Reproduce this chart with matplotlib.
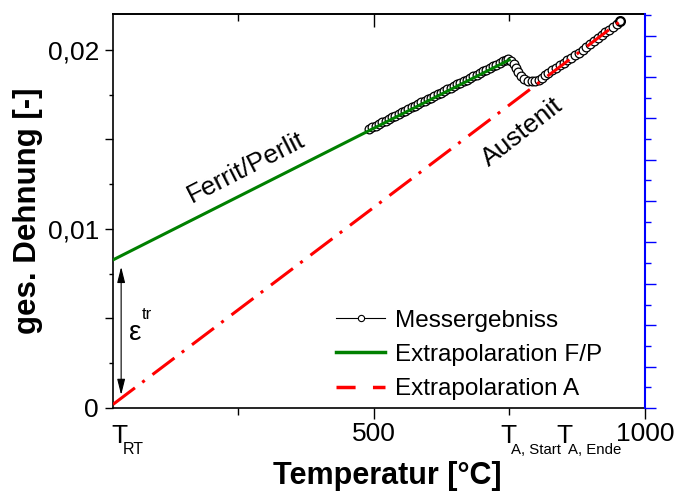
import matplotlib
matplotlib.use('Agg')
import matplotlib.pyplot as plt
import matplotlib.transforms as mtransforms
from matplotlib.lines import Line2D
from matplotlib.ticker import MultipleLocator, FixedLocator, FuncFormatter

plt.rcParams['font.family'] = ['Liberation Sans', 'DejaVu Sans']

# Messergebniss (Temperatur in °C, ges. Dehnung)
mess_T = [492, 498, 504, 510, 516, 522, 528, 534, 540, 546, 552, 558, 564, 570,
          576, 582, 588, 594, 600, 606, 612, 618, 624, 630, 636, 642, 648, 654,
          660, 666, 672, 678, 684, 690, 696, 702, 708, 714, 720, 726, 732, 738,
          744, 748, 754, 758, 762, 766, 772, 778, 785, 792, 798, 804, 810, 816,
          822, 829, 836, 843, 850, 857, 864, 871, 878, 885, 892, 899, 906, 913,
          920, 927, 934, 941, 948, 954]
mess_eps = [0.01559, 0.01568, 0.01577, 0.01587, 0.01596, 0.01605, 0.01614,
            0.01623, 0.01632, 0.01642, 0.01651, 0.01660, 0.01669, 0.01678,
            0.01688, 0.01697, 0.01706, 0.01715, 0.01724, 0.01733, 0.01743,
            0.01752, 0.01761, 0.01770, 0.01779, 0.01789, 0.01798, 0.01807,
            0.01816, 0.01825, 0.01834, 0.01844, 0.01853, 0.01862, 0.01871,
            0.01880, 0.01890, 0.01899, 0.01908, 0.01917, 0.01926, 0.01935,
            0.01944, 0.01948, 0.01940, 0.01922, 0.01898, 0.01874, 0.01853,
            0.01839, 0.01828, 0.01826, 0.01828, 0.01834, 0.01845, 0.01858,
            0.01871, 0.01886, 0.01900, 0.01914, 0.01928, 0.01942, 0.01956,
            0.01970, 0.01985, 0.02001, 0.02017, 0.02033, 0.02049, 0.02065,
            0.02081, 0.02097, 0.02113, 0.02129, 0.02145, 0.02159]

# Extrapolationen
fp_T = [20, 750]
fp_eps = [0.00827, 0.01944]
a_T = [20, 954]
a_eps = [0.0002, 0.02159]

# besondere Temperaturen an der x-Achse
t_rt = 20
t_a_start = 750
t_a_ende = 847

legend_labels = ['Messergebniss', 'Extrapolaration F/P', 'Extrapolaration A']

fig = plt.figure(figsize=(6.76, 4.95), dpi=100)
ax = fig.add_axes([0.16716, 0.17576, 0.78698, 0.79596])

ax.plot(mess_T, mess_eps, '-o', color='black', lw=0.8, ms=6.3, mfc='white',
        mec='black', mew=0.9, zorder=2)
ax.plot(mess_T[-1:], mess_eps[-1:], 'o', ms=6.3, mfc='white', mec='black',
        mew=1.6, zorder=2)
ax.plot(fp_T, fp_eps, color='#008000', lw=2.2, zorder=3)
ax.plot(a_T, a_eps, color='red', lw=2.2, ls=(0, (9, 3, 1, 3.2)), zorder=3)

ax.set_xlim(20, 1000)
ax.set_ylim(0, 0.022)

# x-Achse
ax.set_xticks([500, 1000])
ax.set_xticklabels(['500', '1000'])
ax.xaxis.set_minor_locator(FixedLocator([250, 750]))
ax.tick_params(axis='x', which='major', direction='out', length=8, width=1,
               labelsize=19, pad=2)
ax.tick_params(axis='x', which='minor', direction='out', length=5, width=1)

top = ax.secondary_xaxis('top')
top.set_xticks([500])
top.xaxis.set_minor_locator(FixedLocator([250, 750]))
top.tick_params(axis='x', which='major', direction='in', length=9, width=1,
                labeltop=False)
top.tick_params(axis='x', which='minor', direction='in', length=5, width=1)
top.spines['top'].set_linewidth(1.2)


def fmt(v, pos):
    if abs(v) < 1e-9:
        return '0'
    if abs(v / 0.01 - round(v / 0.01)) < 1e-6:
        return ('%.2f' % v).replace('.', ',')
    return ''


ax.yaxis.set_major_locator(MultipleLocator(0.005))
ax.yaxis.set_minor_locator(MultipleLocator(0.0025))
ax.yaxis.set_major_formatter(FuncFormatter(fmt))
ax.tick_params(axis='y', which='major', direction='out', length=6, width=1,
               labelsize=19, pad=4)
ax.tick_params(axis='y', which='minor', direction='out', length=3, width=1)

for s in ['left', 'bottom', 'top']:
    ax.spines[s].set_linewidth(1.2)
ax.spines['right'].set_visible(False)

# blaue rechte Achse
ax2 = ax.twinx()
ax2.set_ylim(0, 9.52)
ax2.yaxis.set_major_locator(MultipleLocator(1))
ax2.yaxis.set_minor_locator(MultipleLocator(0.5))
ax2.tick_params(axis='y', which='major', colors='blue', direction='out',
                length=8, width=1, labelright=False)
ax2.tick_params(axis='y', which='minor', colors='blue', direction='out',
                length=4, width=1)
for s in ['left', 'bottom', 'top']:
    ax2.spines[s].set_visible(False)
ax2.spines['right'].set_color('blue')
ax2.spines['right'].set_linewidth(1.5)

ax.set_xlabel('Temperatur [°C]', fontsize=22, fontweight='bold')
ax.xaxis.set_label_coords(0.516, -0.135)
ax.set_ylabel('ges. Dehnung [-]', fontsize=22.5, fontweight='bold')
ax.yaxis.set_label_coords(-0.132, 0.5)

# T-Beschriftungen an der x-Achse
trans = mtransforms.blended_transform_factory(ax.transData, ax.transAxes)
for x, sub, dx, sdx, fs in [(t_rt, 'RT', 6, 4, 11.5),
                            (t_a_start, 'A, Start', -1, 3, 10.8),
                            (t_a_ende, 'A, Ende', 2, 4, 10.8)]:
    ax.annotate('T', xy=(x, 0), xycoords=trans, xytext=(dx, -35),
                textcoords='offset pixels', ha='center', va='baseline',
                fontsize=19, annotation_clip=False)
    ax.annotate(sub, xy=(x, 0), xycoords=trans, xytext=(dx + sdx, -46),
                textcoords='offset pixels', ha='left', va='baseline',
                fontsize=fs, annotation_clip=False)

ax.text(265, 0.0134, 'Ferrit/Perlit', rotation=27, fontsize=19,
        ha='center', va='center', rotation_mode='anchor')
ax.text(774, 0.0154, 'Austenit', rotation=38, fontsize=19,
        ha='center', va='center', rotation_mode='anchor')

ax.annotate('', xy=(35, 0.00073), xytext=(35, 0.00788),
            arrowprops=dict(arrowstyle='<|-|>,head_length=0.8,head_width=0.2',
                            color='black', lw=0.8, mutation_scale=12,
                            shrinkA=0, shrinkB=0))
ax.text(61, 0.0042, 'ε', fontsize=20, ha='center', va='center')
ax.text(83, 0.0052, 'tr', fontsize=12, ha='center', va='center')

h1 = Line2D([], [], color='black', lw=0.8, marker='o', ms=4.5, mfc='white',
            mec='black', mew=0.8)
h2 = Line2D([], [], color='#008000', lw=2.5)
h3 = Line2D([], [], color='red', lw=2.5, ls=(0, (5.5, 5)))
ax.legend([h1, h2, h3], legend_labels, loc='lower left',
          bbox_to_anchor=(0.42, 0.02), frameon=False, fontsize=17.5,
          handlelength=2.0, handletextpad=0.4, labelspacing=0.5,
          borderpad=0, borderaxespad=0, numpoints=1)

fig.savefig('out.png', dpi=100)
